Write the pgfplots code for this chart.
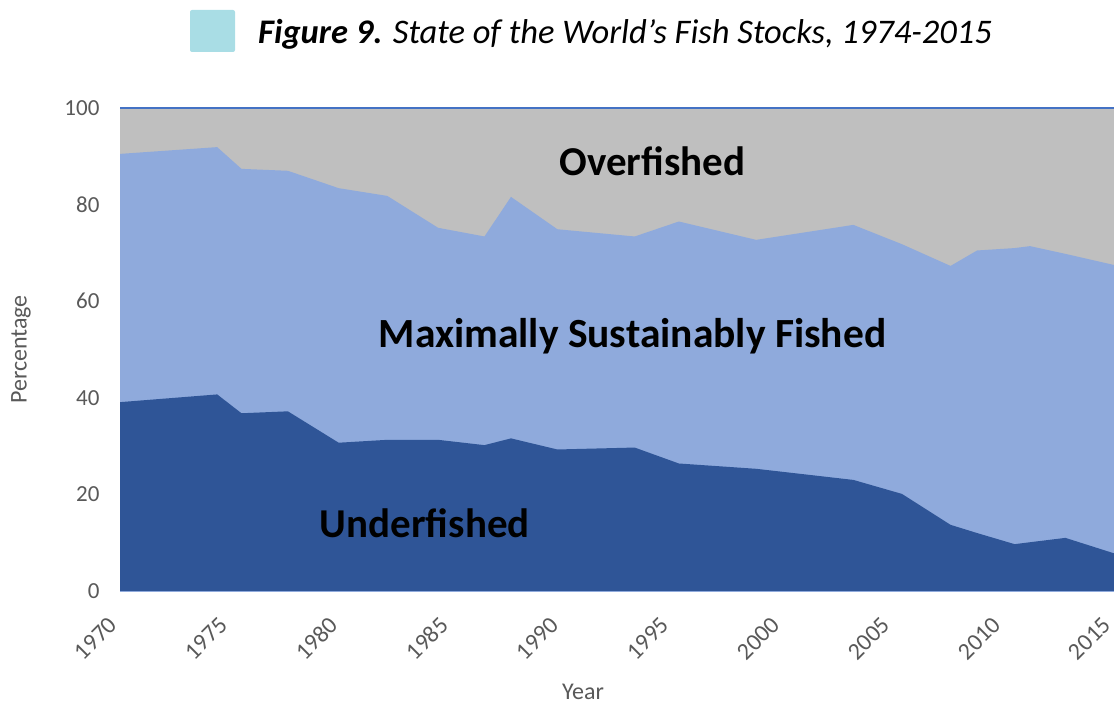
\documentclass[border=0pt]{standalone}
\usepackage{pgfplots}
\usepackage{pgfplotstable}
\pgfplotsset{compat=1.18}
\usepackage{fontspec}
\setmainfont{Carlito}
\definecolor{overc}{HTML}{BFBFBF}
\definecolor{msfc}{HTML}{8FAADC}
\definecolor{underc}{HTML}{2F5597}
\definecolor{topline}{HTML}{4472C4}
\definecolor{ticktxt}{HTML}{595959}
\definecolor{sq}{HTML}{A9DDE5}

\pgfplotstableread{
year   under  top   over
1970.0 39.1   90.5  100
1974.4 40.7   91.9  100
1975.5 36.8   87.4  100
1977.6 37.2   87.0  100
1979.9 30.7   83.4  100
1982.1 31.3   81.8  100
1984.4 31.3   75.2  100
1986.5 30.2   73.4  100
1987.7 31.6   81.6  100
1989.8 29.3   74.9  100
1993.3 29.7   73.4  100
1995.3 26.4   76.5  100
1998.8 25.3   72.7  100
2003.2 23.0   75.8  100
2005.4 20.1   71.8  100
2007.6 13.7   67.3  100
2008.8 12.0   70.5  100
2010.5  9.7   71.0  100
2011.2 10.1   71.4  100
2012.8 11.0   69.8  100
2015.0  7.8   67.5  100
}\fishdata

\begin{document}
\begin{tikzpicture}
\begin{axis}[
  scale only axis,
  width=994pt, height=483pt,
  xmin=1970, xmax=2015, ymin=0, ymax=100,
  axis line style={draw=none},
  major tick length=0pt,
  xtick={1970,1975,...,2015},
  ytick={0,20,...,100},
  /pgf/number format/1000 sep={},
  /pgf/number format/assume math mode=true,
  y tick label style={font=\fontsize{23}{26}\selectfont, text=ticktxt, xshift=-17pt},
  x tick label style={font=\fontsize{24}{27}\selectfont, text=ticktxt, xshift=-7pt, yshift=-30pt, rotate=45, anchor=east, inner sep=0pt},
  xlabel={Year}, ylabel={Percentage},
  every axis x label/.style={at={(rel axis cs:0,0)}, xshift=463pt, yshift=-101pt, anchor=center, font=\fontsize{24}{27}\selectfont, text=ticktxt},
  every axis y label/.style={at={(rel axis cs:0,0.5)}, xshift=-99pt, rotate=90, anchor=center, font=\fontsize{24}{27}\selectfont, text=ticktxt},
  clip=false,
]
\addplot[fill=overc, draw=none] table[x=year, y=over] {\fishdata} \closedcycle;
\addplot[fill=msfc, draw=none] table[x=year, y=top] {\fishdata} \closedcycle;
\addplot[fill=underc, draw=none] table[x=year, y=under] {\fishdata} \closedcycle;
\draw[topline, line width=1.5pt] (rel axis cs:0,1) -- (rel axis cs:1,1);
\draw[msfc, line width=1pt] (rel axis cs:0,0) -- (rel axis cs:1,0);
\node[font=\bfseries\fontsize{41}{44}\selectfont] at (axis cs:1994.1,89.0) {Overfished};
\node[font=\bfseries\fontsize{41.5}{44}\selectfont] at (axis cs:1993.2,52.8) {Maximally Sustainably Fished};
\node[font=\bfseries\fontsize{41}{44}\selectfont] at (axis cs:1983.8,14.1) {Underfished};
\coordinate (sw) at (rel axis cs:0,0);
\coordinate (ne) at (rel axis cs:1,1);
\coordinate (nw) at (rel axis cs:0,1);
\end{axis}
\fill[sq, rounded corners=2pt] ([xshift=70pt,yshift=56pt]nw) rectangle ([xshift=115pt,yshift=98pt]nw);
\node[anchor=base west, inner sep=0pt, font=\fontsize{34.5}{38}\selectfont] at ([xshift=138pt,yshift=64pt]nw) {\textbf{\textit{Figure 9.}} \textit{State of the World’s Fish Stocks, 1974-2015}};
\pgfresetboundingbox
\path[use as bounding box] ([xshift=-120pt,yshift=-113pt]sw) rectangle ([yshift=108pt]ne);
\end{tikzpicture}
\end{document}
